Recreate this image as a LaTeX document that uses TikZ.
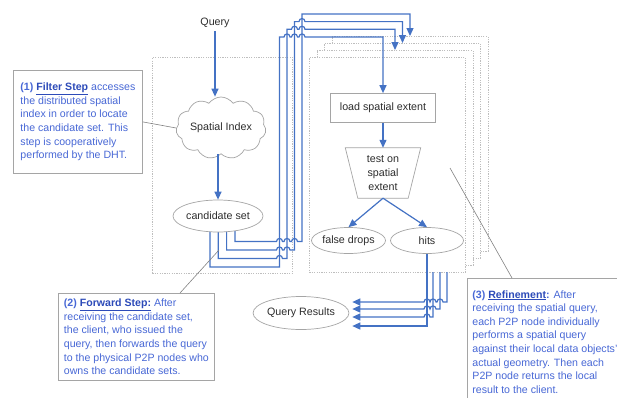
\documentclass[tikz,border=0pt]{standalone}
\usepackage{fontspec}
\setmainfont{Liberation Sans}
\usetikzlibrary{arrows.meta,shapes.geometric,shapes.symbols,backgrounds,calc}
\definecolor{flow}{RGB}{68,114,196}
\definecolor{notec}{RGB}{72,104,214}
\definecolor{notedark}{RGB}{45,75,185}
\definecolor{edgec}{RGB}{165,165,165}
\definecolor{txt}{RGB}{45,45,45}
\definecolor{dotc}{RGB}{190,190,190}
\definecolor{pointc}{RGB}{130,130,130}
\newcommand\hopright[2]{-- ({#1-3},#2) .. controls ({#1-3},{#2-4}) and ({#1+3},{#2-4}) .. ({#1+3},#2)}
\newcommand\hopleft[2]{-- ({#1+3},#2) .. controls ({#1+3},{#2-4}) and ({#1-3},{#2-4}) .. ({#1-3},#2)}
\begin{document}
\begin{tikzpicture}[x=1pt,y=-1pt,
  every node/.style={font=\fontsize{10.7}{14}\selectfont, text=txt},
  flowline/.style={draw=flow, line width=1.2pt},
  flowarrow/.style={flowline, -{Triangle[length=8pt,width=7pt]}},
  oval/.style={ellipse, draw=edgec, fill=white, line width=0.7pt, inner sep=0pt},
  procbox/.style={rectangle, draw=edgec, fill=white, line width=0.7pt, inner sep=0pt},
  region/.style={rectangle, draw=dotc, fill=white, line width=0.6pt, dash pattern=on 1.2pt off 1.2pt, inner sep=0pt, anchor=north west},
  note/.style={rectangle, draw=edgec, fill=white, line width=0.8pt, anchor=north west, align=left, text=notec, font=\fontsize{10.6}{13.6}\selectfont, inner xsep=4pt, inner ysep=3pt},
  pointer/.style={draw=pointc, line width=0.6pt},
]
\useasboundingbox (0,0) rectangle (617,397);

% main nodes
\node (query) at (215,23) {Query};
\node[cloud, draw=edgec, fill=white, line width=0.7pt, cloud puffs=11, cloud puff arc=110, cloud ignores aspect, minimum width=90pt, minimum height=62pt, inner sep=0pt] (cloud) at (221,128) {Spatial Index};
\node[oval, minimum width=90pt, minimum height=32pt] (cand) at (218,216) {candidate set};
\node[procbox, minimum width=105pt, minimum height=29pt] (load) at (383,108) {load spatial extent};
\node[align=center, minimum width=75pt, minimum height=50pt, inner sep=0pt] (test) at (383,173) {test on\\spatial\\extent};
\draw[draw=edgec, line width=0.7pt] (test.north west) -- (test.north east) -- ($(test.south east)+(-12.5,0)$) -- ($(test.south west)+(12.5,0)$) -- cycle;
\node[oval, minimum width=73pt, minimum height=26pt] (false) at (348.5,240.5) {false drops};
\node[oval, minimum width=73pt, minimum height=26pt] (hits) at (427,240.5) {hits};
\node[oval, minimum width=88pt, minimum height=33pt] (qres) at (301,313) {Query Results};

% short arrows
\draw[flowarrow] (query.south) -- (query.south |- cloud.north);
\draw[flowarrow] (cand.north |- cloud.south) -- (cand.north);
\draw[flowarrow] (load.south) -- (test.north);
\draw[flowarrow] (test.south) -- (false.north);
\draw[flowarrow] (test.south) -- (hits.north);

% notes
\node[note, minimum width=129pt, minimum height=103pt] (n1) at (13,70)
  {\textbf{(1) \textcolor{notedark}{\underline{Filter Step}}} accesses\\ the distributed spatial\\ index in order to locate\\ the candidate set. This\\ step is cooperatively\\ performed by the DHT.};
\node[note, minimum width=156pt, minimum height=87pt] (n2) at (58,293)
  {\textbf{(2) \textcolor{notedark}{\underline{Forward Step:}}} After\\ receiving the candidate set,\\ the client, who issued the\\ query, then forwards the query\\ to the physical P2P nodes who\\ owns the candidate sets.};
\node[note, minimum width=155pt, minimum height=127pt] (n3) at (467,278)
  {\textbf{(3) \textcolor{notedark}{\underline{Refinement}}:} After\\ receiving the spatial query,\\ each P2P node individually\\ performs a spatial query\\ against their local data objects'\\ actual geometry. Then each\\ P2P node returns the local\\ result to the client.};

% pointers
\coordinate (fp) at (219,250);
\coordinate (rp) at (450,168);
\draw[pointer] (n1.east) -- (cloud.west);
\draw[pointer] ($(n2.north west)+(122,0)$) -- (fp);
\draw[pointer] ($(n3.north west)+(45,0)$) -- (rp);

\begin{scope}[on background layer]
  \node[region, minimum width=140pt, minimum height=216pt] (leftreg) at (152,57) {};
  \node[region, minimum width=156pt, minimum height=215pt] (box4) at (331.5,36) {};
  \node[region, minimum width=156pt, minimum height=215pt] (box3) at (324,43) {};
  \node[region, minimum width=156pt, minimum height=215pt] (box2) at (316.5,50) {};
  \node[region, minimum width=156pt, minimum height=215pt] (box1) at (309,57) {};

  \coordinate (t2) at (395,0);
  \coordinate (t3) at (402.5,0);
  \coordinate (t4) at (410,0);
  % forward bundle
  \draw[flowarrow] ($(cand.center)+(-8,0)$) -- (210,267) -- (279.5,267) -- (279.5,37)
     \hopright{287}{37} \hopright{294.5}{37} \hopright{302}{37} -- (383,37) -- (load.north);
  \draw[flowarrow] ($(cand.center)+(0.3,0)$) -- (218.3,258.5) \hopright{279.5}{258.5} -- (287,258.5) -- (287,29.3)
     \hopright{294.5}{29.3} \hopright{302}{29.3} -- (395,29.3) -- (t2 |- box2.north);
  \draw[flowarrow] ($(cand.center)+(8.6,0)$) -- (226.6,250) \hopright{279.5}{250} \hopright{287}{250} -- (294.5,250) -- (294.5,21.6)
     \hopright{302}{21.6} -- (402.5,21.6) -- (t3 |- box3.north);
  \draw[flowarrow] ($(cand.center)+(17,0)$) -- (235,241.5) \hopright{279.5}{241.5} \hopright{287}{241.5} \hopright{294.5}{241.5} -- (302,241.5) -- (302,14)
     -- (410,14) -- (t4 |- box4.north);

  % result bundle
  \coordinate (bB) at (433,272);
  \coordinate (bC) at (440,272);
  \coordinate (bD) at (447,272);
  \draw[flowarrow] (hits.center) -- (427,326) -- ($(qres.east)+(3,13)$);
  \draw[flowarrow] (bB) -- (433,317) \hopleft{427}{317} -- ($(qres.east)+(3,4)$);
  \draw[flowarrow] (bC) -- (440,309) \hopleft{433}{309} \hopleft{427}{309} -- ($(qres.east)+(3,-4)$);
  \draw[flowarrow] (bD) -- (447,302) \hopleft{440}{302} \hopleft{433}{302} \hopleft{427}{302} -- ($(qres.east)+(3,-11)$);
\end{scope}
\end{tikzpicture}
\end{document}
